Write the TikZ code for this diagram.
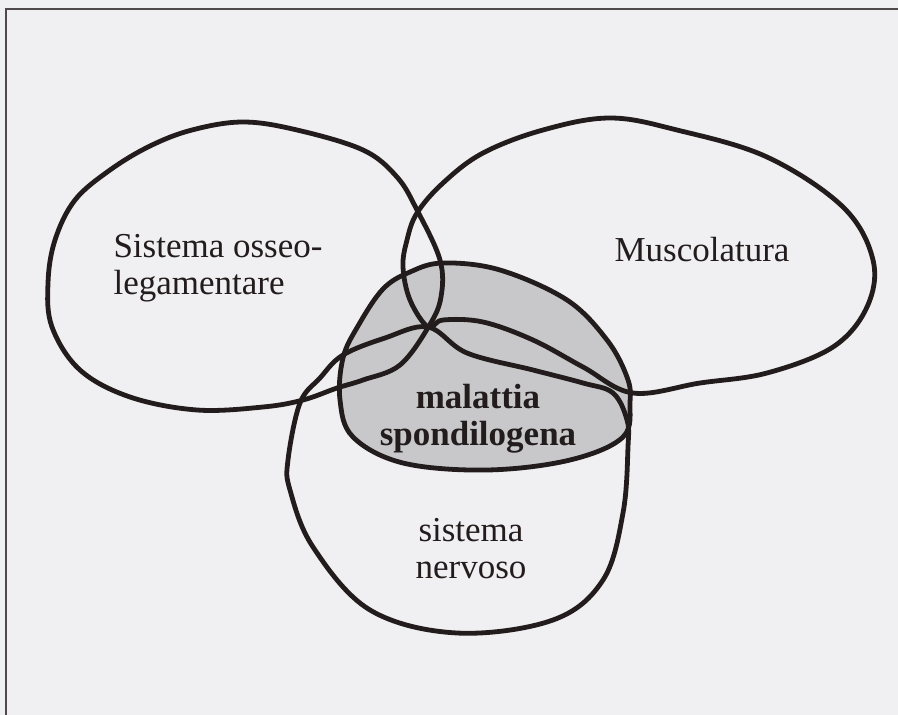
\documentclass[tikz,border=0pt]{standalone}
\usepackage{fontspec}
\setmainfont{Liberation Serif}
\definecolor{paper}{RGB}{240,239,241}
\definecolor{dotgray}{RGB}{200,200,202}
\definecolor{ink}{RGB}{35,28,28}
\usetikzlibrary{positioning}

\tikzset{
  blob/.style={draw=ink,line width=4.8pt,line join=round},
  label/.style={align=center,font=\fontsize{35}{37}\selectfont,text=ink},
}

\begin{document}
\begin{tikzpicture}[x=1pt,y=-1pt]
  \useasboundingbox (0,0) rectangle (898,715);
  \fill[paper] (-5,-5) rectangle (905,720);
  %% frame
  \draw[ink!80,line width=1.5pt] (905,9) -- (6,9) -- (6,720);
  %% malattia spondilogena (shaded)
  \fill[dotgray] plot[smooth cycle,tension=0.6] coordinates {
    (410,272) (443,263) (500,270) (567,300) (607,340) (627,377)
    (630,402) (623,437) (570,460) (487,470) (403,463) (353,437)
    (340,400) (343,358) (358,326) (383,289)};
  \draw[blob] plot[smooth cycle,tension=0.6] coordinates {
    (410,272) (443,263) (500,270) (567,300) (607,340) (627,377)
    (630,402) (623,437) (570,460) (487,470) (403,463) (353,437)
    (340,400) (343,358) (358,326) (383,289)};
  %% sistema osseo-legamentare
  \draw[blob] plot[smooth cycle,tension=0.6] coordinates {
    (243,122) (297,130) (363,150) (397,177) (417,210) (440,260)
    (441,297) (429,326) (400,365) (363,380) (337,388) (303,400)
    (263,407) (197,410) (130,397) (80,370) (52,327) (48,283)
    (55,240) (75,200) (110,170) (150,146) (192,130)};
  %% muscolatura
  \draw[blob] plot[smooth cycle,tension=0.6] coordinates {
    (610,118) (677,130) (767,157) (843,207) (873,260) (867,307)
    (833,347) (767,373) (700,383) (633,393) (583,367) (533,340)
    (483,322) (443,320) (428,327) (410,300) (403,267) (407,240)
    (417,213) (443,183) (483,153) (543,130)};
  %% sistema nervoso
  \draw[blob] plot[smooth cycle,tension=0.6] coordinates {
    (428,327) (467,353) (533,370) (583,383) (613,393) (627,420)
    (628,447) (623,513) (603,580) (553,620) (457,633) (370,610)
    (313,547) (290,490) (288,460) (300,403) (320,378) (343,355)
    (385,338)};
  %% labels
  \node[label,align=left,anchor=west] (osseo) at (110,268)
    {Sistema osseo-\\legamentare};
  \node[label] (muscoli) at (702,250) {Muscolatura};
  \node[label,font=\fontsize{35}{37}\selectfont\bfseries] (malattia) at (478,419)
    {malattia\\spondilogena};
  \node[label] (nervi) at (471,549) {sistema\\nervoso};
\end{tikzpicture}
\end{document}
